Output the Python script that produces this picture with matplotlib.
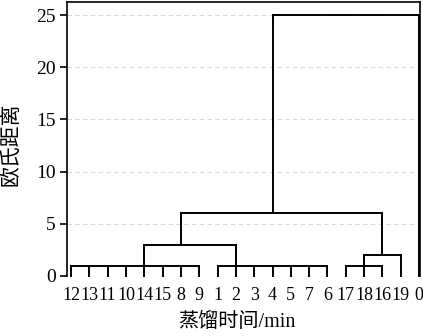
import math
import matplotlib
matplotlib.use("Agg")
import matplotlib.pyplot as plt

plt.rcParams['font.family'] = ['Liberation Serif', 'Noto Sans CJK SC', 'DejaVu Sans']

# Leaf order (sample labels)
leaf_labels = ['12', '13', '11', '10', '14', '15', '8', '9',
               '1', '2', '3', '4', '5', '7', '6',
               '17', '18', '16', '19', '0']

# Comb clusters merged at the same rescaled distance
comb_first = [0, 8, 15]
comb_last = [7, 14, 17]
comb_anchor = [4, 9, 16]
comb_height = [1, 1, 1]

# Later merges: node ids (leaves 0..19, combs 20..22, merges 23..)
merge_left = [20, 22, 23, 25]
merge_right = [21, 18, 24, 19]
merge_height = [3, 2, 6, 25]

yticks = [0, 5, 10, 15, 20, 25]

W, H = 423, 336
fig = plt.figure(figsize=(W / 100, H / 100), dpi=100)
ax = fig.add_axes([67 / W, 1 - 276 / H, (420 - 67) / W, (276 - 2) / H])

lw = 1.4
kw = dict(color='black', lw=lw, solid_capstyle='projecting', clip_on=False, zorder=3)

n = len(leaf_labels)
pos = {i: float(i) for i in range(n)}
hgt = {i: 0.0 for i in range(n)}

node = n
for a, b, anc, h in zip(comb_first, comb_last, comb_anchor, comb_height):
    ax.plot([a, b], [h, h], **kw)
    for i in range(a, b + 1):
        ax.plot([i, i], [0, h], **kw)
    pos[node] = float(anc)
    hgt[node] = h
    node += 1

for l, r, h in zip(merge_left, merge_right, merge_height):
    xl, xr = pos[l], pos[r]
    ax.plot([xl, xl], [hgt[l], h], **kw)
    ax.plot([xr, xr], [hgt[r], h], **kw)
    ax.plot([xl, xr], [h, h], **kw)
    pos[node] = float(math.floor((xl + xr) / 2))
    hgt[node] = h
    node += 1

ax.set_xlim(-0.22, 19.05)
ax.set_ylim(0, 26.25)

ax.set_yticks(yticks)
ax.set_yticklabels([str(v) for v in yticks], fontsize=14)
ax.tick_params(axis='y', direction='out', length=5, width=1.2, pad=3)
ax.set_xticks(range(n))
ax.set_xticklabels(leaf_labels, fontsize=13)
ax.tick_params(axis='x', length=0, pad=8)

for y in yticks[1:]:
    ax.axhline(y, color='#d9d9d9', lw=0.8, ls=(0, (4, 3)), zorder=1)

ax.spines['bottom'].set_visible(False)
for s in ['left', 'right', 'top']:
    ax.spines[s].set_linewidth(1.2)

ax.set_ylabel('欧氏距离', fontsize=15, family=['Noto Sans CJK SC'])
ax.yaxis.set_label_coords(-0.128, 0.48)
ax.set_xlabel('蒸馏时间/min', fontsize=14.5)
ax.xaxis.set_label_coords(0.48, -0.135)

fig.savefig('out.png', dpi=100)
